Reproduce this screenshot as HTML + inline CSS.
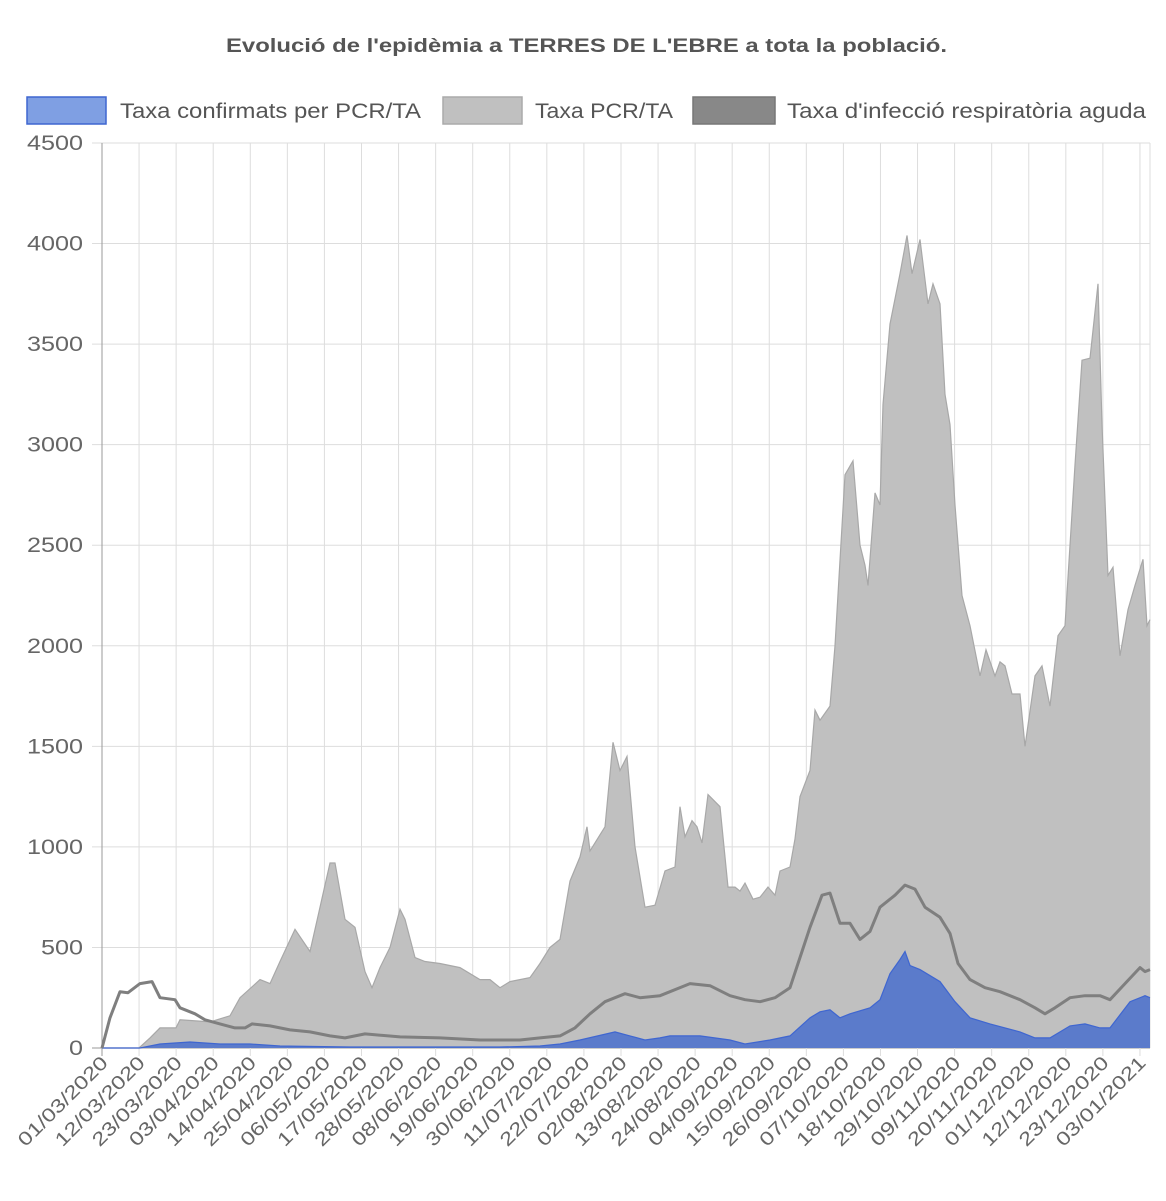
<!DOCTYPE html>
<html><head><meta charset="utf-8">
<style>
body{margin:0;background:#fff;font-family:"Liberation Sans",sans-serif;}
svg text{font-family:"Liberation Sans",sans-serif;}
</style></head>
<body>
<svg id="s" width="1166" height="1196" xmlns="http://www.w3.org/2000/svg">
<text x="226" y="52" textLength="721" lengthAdjust="spacingAndGlyphs" font-size="19" font-weight="bold" fill="#555">Evolució de l'epidèmia a TERRES DE L'EBRE a tota la població.</text>
<rect x="27" y="97" width="79" height="27" fill="#7f9fe3" stroke="#3f66d0" stroke-width="1.5"/>
<text x="120" y="118" font-size="21" textLength="301" lengthAdjust="spacingAndGlyphs" fill="#555">Taxa confirmats per PCR/TA</text>
<rect x="443" y="97" width="79" height="27" fill="#c0c0c0" stroke="#aaa" stroke-width="1.5"/>
<text x="535" y="118" font-size="21" textLength="138" lengthAdjust="spacingAndGlyphs" fill="#555">Taxa PCR/TA</text>
<rect x="693" y="97" width="82" height="27" fill="#888" stroke="#777" stroke-width="1.5"/>
<text x="787" y="118" font-size="21" textLength="359" lengthAdjust="spacingAndGlyphs" fill="#555">Taxa d'infecció respiratòria aguda</text>
<g id="grid"></g>
<g id="data"></g>
<g id="labels"></g>
</svg>
<script>
var Y0=1048,K=905/4500,X0=102,DX=3.37;
function y(v){return Y0-v*K;}
var g=document.getElementById('grid'),d=document.getElementById('data'),L=document.getElementById('labels');
var h='';
for(var i=0;i<=9;i++){var yy=y(i*500);h+='<line x1="92" x2="1150" y1="'+yy+'" y2="'+yy+'" stroke="'+(i==0?'#999':'#ddd')+'" stroke-width="1"/>';}
var dates=["01/03/2020","12/03/2020","23/03/2020","03/04/2020","14/04/2020","25/04/2020","06/05/2020","17/05/2020","28/05/2020","08/06/2020","19/06/2020","30/06/2020","11/07/2020","22/07/2020","02/08/2020","13/08/2020","24/08/2020","04/09/2020","15/09/2020","26/09/2020","07/10/2020","18/10/2020","29/10/2020","09/11/2020","20/11/2020","01/12/2020","12/12/2020","23/12/2020","03/01/2021"];
var lb='';
for(var i=0;i<dates.length;i++){var xx=X0+i*11*DX;h+='<line x1="'+xx+'" x2="'+xx+'" y1="143" y2="1056" stroke="'+(i==0?'#999':'#ddd')+'" stroke-width="1"/>';
lb+='<text font-size="19" fill="#666" text-anchor="end" textLength="118" lengthAdjust="spacingAndGlyphs" transform="translate('+(xx+7)+',1064) rotate(-45)">'+dates[i]+'</text>';}
h+='<line x1="1150" x2="1150" y1="143" y2="1048" stroke="#ddd"/>';
for(var i=0;i<=9;i++){var t=String(i*500);var w=t.length*14;lb+='<text x="'+(83-w)+'" y="'+(y(i*500)+7)+'" font-size="21" fill="#666" textLength="'+w+'" lengthAdjust="spacingAndGlyphs">'+t+'</text>';}
g.innerHTML=h;L.innerHTML=lb;
function P(a){var s='';for(var i=0;i<a.length;i+=2){s+=(i?'L':'M')+a[i]+','+y(a[i+1]).toFixed(1);}return s;}
var gray=[102,0,139,0,150,50,160,100,176,100,180,140,210,130,230,160,240,250,260,340,270,320,280,430,295,590,310,480,320,700,330,920,335,920,345,640,355,600,365,380,372,300,380,400,390,500,400,690,405,640,415,450,425,430,440,420,460,400,480,340,490,340,500,300,510,330,530,350,540,420,550,500,560,540,570,830,580,950,587,1100,590,980,600,1060,605,1100,613,1520,620,1380,627,1450,635,1000,645,700,655,710,665,880,675,900,680,1200,685,1050,692,1130,697,1100,702,1020,708,1260,720,1200,728,800,735,800,740,780,745,820,753,740,760,750,768,800,775,760,780,880,790,900,795,1040,800,1250,810,1380,815,1680,820,1630,830,1700,835,2000,845,2850,853,2920,860,2500,865,2400,868,2300,875,2760,880,2700,883,3200,890,3600,900,3850,907,4040,912,3850,920,4020,928,3700,933,3800,940,3700,945,3250,950,3100,955,2700,962,2250,970,2100,980,1850,986,1980,995,1850,1000,1920,1005,1900,1012,1760,1020,1760,1025,1500,1035,1850,1042,1900,1050,1700,1058,2050,1065,2100,1075,2900,1082,3420,1090,3430,1098,3800,1102,3100,1108,2350,1113,2390,1120,1950,1128,2180,1135,2300,1143,2430,1147,2100,1150,2130];
var line=[102,0,110,150,120,280,128,275,140,320,152,330,160,250,175,240,180,200,195,170,205,140,220,120,235,100,245,100,252,120,270,110,290,90,310,80,330,60,345,50,365,70,400,55,440,50,480,40,520,40,540,50,560,60,575,100,590,170,605,230,625,270,640,250,660,260,690,320,710,310,730,260,745,240,760,230,775,250,790,300,800,450,810,600,822,760,830,770,840,620,850,620,860,540,870,580,880,700,895,760,905,810,915,790,925,700,940,650,950,570,958,420,970,340,985,300,1000,280,1020,240,1035,200,1045,170,1055,200,1070,250,1085,260,1100,260,1110,240,1125,320,1140,400,1145,380,1150,390];
var blue=[102,0,140,0,160,20,190,30,220,20,250,20,280,10,350,5,500,5,540,10,560,20,580,40,615,80,630,60,645,40,660,50,670,60,700,60,730,40,745,20,770,40,790,60,810,150,820,180,830,190,840,150,850,170,870,200,880,240,890,370,900,440,905,480,910,410,920,390,940,330,955,230,970,150,990,120,1020,80,1035,50,1050,50,1070,110,1085,120,1100,100,1110,100,1130,230,1145,260,1150,250];
var o='';
o+='<path d="'+P(gray)+'L1150,'+Y0+'L102,'+Y0+'Z" fill="#c0c0c0"/>';
o+='<path d="'+P(gray)+'" fill="none" stroke="#a8a8a8" stroke-width="1.2"/>';
o+='<path d="'+P(blue)+'L1150,'+Y0+'L102,'+Y0+'Z" fill="#5b7bcb"/>';
o+='<path d="'+P(blue)+'" fill="none" stroke="#3f66d0" stroke-width="1.2"/>';
o+='<path d="'+P(line)+'" fill="none" stroke="#7f7f7f" stroke-width="3" stroke-linejoin="round"/>';
d.innerHTML=o;
</script>
</body></html>
